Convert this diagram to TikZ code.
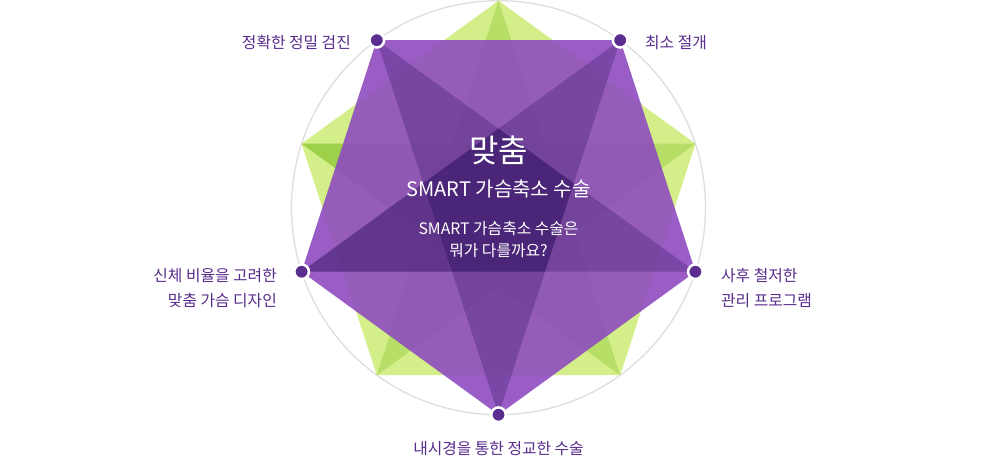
\documentclass[tikz,border=0pt]{standalone}
\usepackage{fontspec}
\setmainfont{Noto Sans CJK KR}
\definecolor{labelc}{RGB}{88,44,140}
\definecolor{ringc}{RGB}{222,222,222}
\definecolor{gbase}{RGB}{231,250,160}
\definecolor{gk}{RGB}{120,190,30}
\definecolor{pbase}{RGB}{162,88,211}
\definecolor{pk}{RGB}{50,20,100}
\definecolor{dotc}{RGB}{92,45,145}
\tikzset{
  lab/.style={text=labelc, inner sep=0pt, font=\fontsize{15.8}{25}\selectfont},
  ctext/.style={text=white, inner sep=0pt},
  dot/.style={circle, fill=dotc, draw=white, line width=2.5pt, minimum size=14.6pt, inner sep=0pt},
  gtri/.style={fill=gk, fill opacity=0.17},
  ptri/.style={fill=pk, fill opacity=0.16},
}
\begin{document}
\begin{tikzpicture}[x=1pt,y=-1pt]
\useasboundingbox (0,0) rectangle (1000,460);
\fill[white] (0,0) rectangle (1000,460);
\coordinate (O) at (498.5,207.7);
% purple pentagon vertices
\coordinate (A) at (376.8,40.2);
\coordinate (B) at (620.2,40.2);
\coordinate (C) at (695.4,271.7);
\coordinate (D) at (498.5,414.7);
\coordinate (E) at (301.6,271.7);
% purple inner pentagon
\coordinate (I1) at (498.5,128.6);
\coordinate (I2) at (573.7,183.3);
\coordinate (I3) at (545.0,271.7);
\coordinate (I4) at (452.0,271.7);
\coordinate (I5) at (423.3,183.3);
% green pentagon vertices
\coordinate (G0) at (498.5,0.7);
\coordinate (G1) at (695.4,143.7);
\coordinate (G2) at (620.2,375.2);
\coordinate (G3) at (376.8,375.2);
\coordinate (G4) at (301.6,143.7);
% green inner points
\coordinate (H1) at (452.0,143.7);
\coordinate (H2) at (423.3,232.1);

\draw[ringc, line width=1.3pt] (O) circle[radius=207pt];

% green star
\fill[gbase] (G0)--(G1)--(G2)--(G3)--(G4)--cycle;
\fill[gtri] (G0)--(G2)--(G3)--cycle;
\fill[gtri] (G1)--(G3)--(G4)--cycle;
\fill[gtri] (G2)--(G4)--(G0)--cycle;
\fill[gtri] (G3)--(G0)--(G1)--cycle;
\fill[gtri] (G4)--(G1)--(G2)--cycle;
\fill[gk, fill opacity=0.4] (G4)--(H1)--(H2)--cycle;

% purple star
\fill[pbase, fill opacity=0.88] (A)--(B)--(C)--(D)--(E)--cycle;
\fill[ptri] (A)--(C)--(D)--cycle;
\fill[ptri] (B)--(D)--(E)--cycle;
\fill[ptri] (C)--(E)--(A)--cycle;
\fill[ptri] (D)--(A)--(B)--cycle;
\fill[ptri] (E)--(B)--(C)--cycle;
\fill[pk, fill opacity=0.45] (I1)--(I2)--(I3)--(I4)--(I5)--cycle;
\fill[pk, fill opacity=0.3] (E)--(I5)--(I4)--cycle;

% dots
\node[dot] (dA) at (A) {};
\node[dot] (dB) at (B) {};
\node[dot] (dC) at (C) {};
\node[dot] (dD) at (D) {};
\node[dot] (dE) at (E) {};

% labels
\node[lab, anchor=east] (tA) at (351,43) {정확한 정밀 검진};
\node[lab, anchor=west] (tB) at (645,43) {최소 절개};
\node[lab, anchor=east, align=right] (tE) at (277,288) {신체 비율을 고려한\\맞춤 가슴 디자인};
\node[lab, anchor=west, align=left] (tC) at (721,288) {사후 철저한\\관리 프로그램};
\node[lab] (tD) at (498.5,449) {내시경을 통한 정교한 수술};

% center text
\node[ctext, font=\fontsize{32}{36}\selectfont] (m1) at (498.5,150) {맞춤};
\node[ctext, font=\fontsize{20}{24}\selectfont] (m2) at (498.5,189) {SMART 가슴축소 수술};
\node[ctext, font=\fontsize{15.8}{22}\selectfont, align=center] (m3) at (498.5,240) {SMART 가슴축소 수술은\\뭐가 다를까요?};
\end{tikzpicture}
\end{document}
